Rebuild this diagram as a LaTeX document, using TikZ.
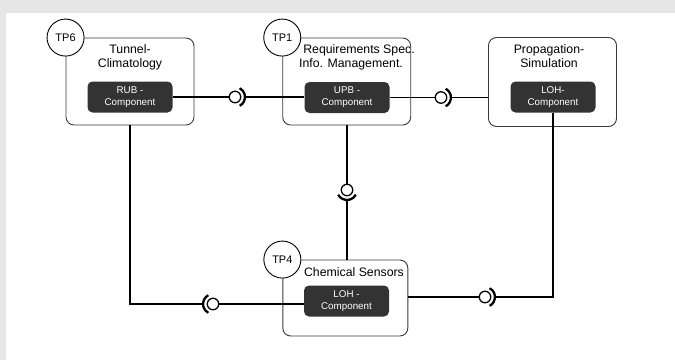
\documentclass[tikz,border=0pt]{standalone}
\usepackage{fontspec}
\setmainfont{Liberation Sans}
\definecolor{bggray}{HTML}{E6E6E6}
\definecolor{compfill}{HTML}{333333}
\definecolor{boxline}{HTML}{3A3A3A}
\tikzset{
  tpbox/.style={draw=boxline, line width=0.9pt, rounded corners=8pt, fill=white, minimum width=128pt, inner sep=0pt},
  comp/.style={fill=compfill, rounded corners=5pt, minimum width=85pt, minimum height=31pt, inner sep=0pt, text=white, font=\fontsize{9.8}{11.8}\selectfont, align=center},
  title/.style={font=\fontsize{12.3}{14}\selectfont, align=center, inner sep=0pt},
  tpcirc/.style={circle, draw=black, line width=0.9pt, fill=white, minimum size=37pt, inner sep=0pt, font=\fontsize{11}{13}\selectfont},
  ball/.style={circle, draw=black, line width=1.3pt, fill=white, minimum size=11.5pt, inner sep=0pt},
  socket/.style={line width=2.3pt},
  conn/.style={line width=1.4pt}
}
\begin{document}
\begin{tikzpicture}[x=1pt,y=-1pt]
\useasboundingbox (0,0) rectangle (675,360);
\fill[white] (0,0) rectangle (675,360);
\fill[bggray] (0,0) rectangle (675,13);
\fill[bggray] (0,0) rectangle (6,360);

% boxes
\node[tpbox, minimum width=128pt, minimum height=87pt] (tp6box) at (130,81.5) {};
\node[tpbox, minimum width=128pt, minimum height=87pt] (tp1box) at (346.7,81.5) {};
\node[tpbox, minimum width=128pt, minimum height=89pt] (propbox) at (552.5,82) {};
\node[tpbox, minimum width=125pt, minimum height=76pt] (tp4box) at (345.3,298) {};

% titles
\node[title] (t6) at (130,57) {Tunnel-\\Climatology};
\node[title] (t1) at (351,57.5) {\hspace*{16pt}Requirements Spec.\\Info. Management.};
\node[title] (tprop) at (549,56.5) {Propagation-\\Simulation};
\node[title] (t4) at (354,272.5) {Chemical Sensors};

% components
\node[comp] (rub) at (130,97) {RUB -\\Component};
\node[comp] (upb) at (347,97.5) {UPB -\\Component};
\node[comp] (loh) at (553,97) {LOH-\\Component};
\node[comp] (chem) at (346.5,301) {LOH -\\Component};

% TP circles
\node[tpcirc] (c6) at (tp6box.north west) {TP6};
\node[tpcirc] (c1) at (tp1box.north west) {TP1};
\node[tpcirc] (c4) at (tp4box.north west) {TP4};

% ball positions
\coordinate (p1) at (235,97);
\coordinate (p5) at (441,97.5);
\coordinate (p3) at (347,190);
\coordinate (p2) at (213,304);
\coordinate (p4) at (485,297);

% socket ends
\coordinate (s1) at (245,97);
\coordinate (s5) at (451,97.5);
\coordinate (s3) at (347,200);
\coordinate (s2) at (203,304);
\coordinate (s4) at (495,297);

% connectors
\draw[conn] (rub.east) -- (p1);
\draw[conn] (s1) -- (s1 -| upb.west);
\draw[conn] (upb.east) -- (p5);
\draw[conn] (s5) -- (s5 -| propbox.west);
\draw[conn] (tp1box.south -| p3) -- (p3);
\draw[conn] (s3) -- (s3 |- tp4box.north);
\draw[conn] (tp6box.south) |- (s2);
\draw[conn] (p2) -- (p2 -| chem.west);
\draw[conn] (tp4box.east |- p4) -- (p4);
\draw[conn] (s4) -| (loh.south);

% balls
\node[ball] (b1) at (p1) {};
\node[ball] (b5) at (p5) {};
\node[ball] (b3) at (p3) {};
\node[ball] (b2) at (p2) {};
\node[ball] (b4) at (p4) {};

% sockets
\draw[socket] ([shift={(-62:10)}]b1.center) arc[start angle=-62,end angle=62,radius=10];
\draw[socket] ([shift={(-62:10)}]b5.center) arc[start angle=-62,end angle=62,radius=10];
\draw[socket] ([shift={(28:10)}]b3.center) arc[start angle=28,end angle=152,radius=10];
\draw[socket] ([shift={(118:10)}]b2.center) arc[start angle=118,end angle=242,radius=10];
\draw[socket] ([shift={(-62:10)}]b4.center) arc[start angle=-62,end angle=62,radius=10];
\end{tikzpicture}
\end{document}
